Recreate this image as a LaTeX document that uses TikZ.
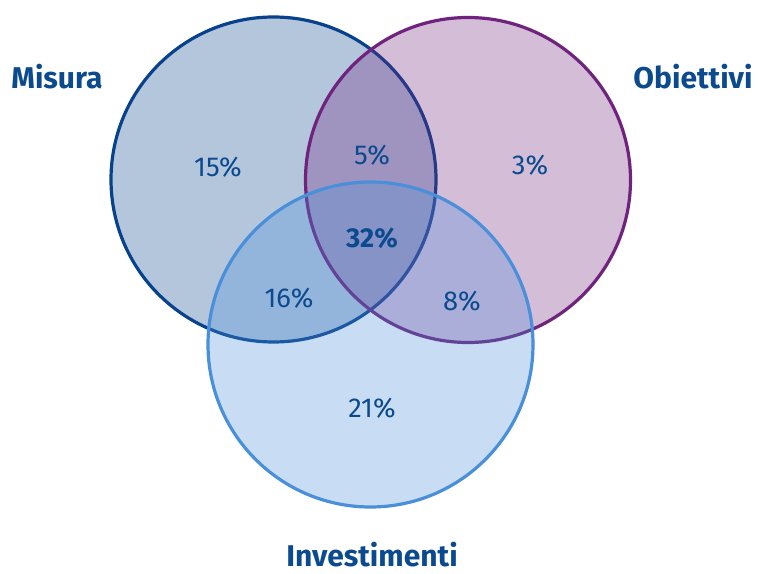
\documentclass[tikz,border=0pt]{standalone}
\usepackage{fontspec}
\setmainfont{Fira Sans}
\usetikzlibrary{positioning}
\definecolor{misuracol}{HTML}{08428C}
\definecolor{obiettivicol}{HTML}{6F237C}
\definecolor{investcol}{HTML}{4A8FDA}
\definecolor{labelcol}{HTML}{0B4A8E}
\begin{document}
\begin{tikzpicture}[x=0.75pt,y=-0.75pt,
  set/.style={circle,draw=#1,fill=#1,fill opacity=0.3,draw opacity=1,
    line width=2.4pt,minimum size=243.75pt,inner sep=0pt},
  title/.style={font=\bfseries\fontsize{22.5}{26}\selectfont,text=labelcol,inner sep=1pt},
  pct/.style={font=\fontsize{20.5}{24}\selectfont,text=labelcol}]
\useasboundingbox (0,0) rectangle (757,574);
% the three sets
\node[set=misuracol] (misura) at (273.5,179.5) {};
\node[set=obiettivicol] (obiettivi) at (468,180) {};
\node[set=investcol] (invest) at (370.5,344.5) {};
% set names
\node[title] (lmisura) at (57,77) {Misura};
\node[title] (lobiettivi) at (693,77) {Obiettivi};
\node[title] (linvest) at (372,555) {Investimenti};
% shares
\node[pct] (pm) at (218,167) {15\%};
\node[pct] (pmo) at (372,155) {5\%};
\node[pct] (po) at (530,165) {3\%};
\node[pct,font=\bfseries\fontsize{20.5}{24}\selectfont] (pall) at (372,238) {32\%};
\node[pct] (pmi) at (289,298) {16\%};
\node[pct] (poi) at (462,301) {8\%};
\node[pct] (pi) at (372,408) {21\%};
\end{tikzpicture}
\end{document}
